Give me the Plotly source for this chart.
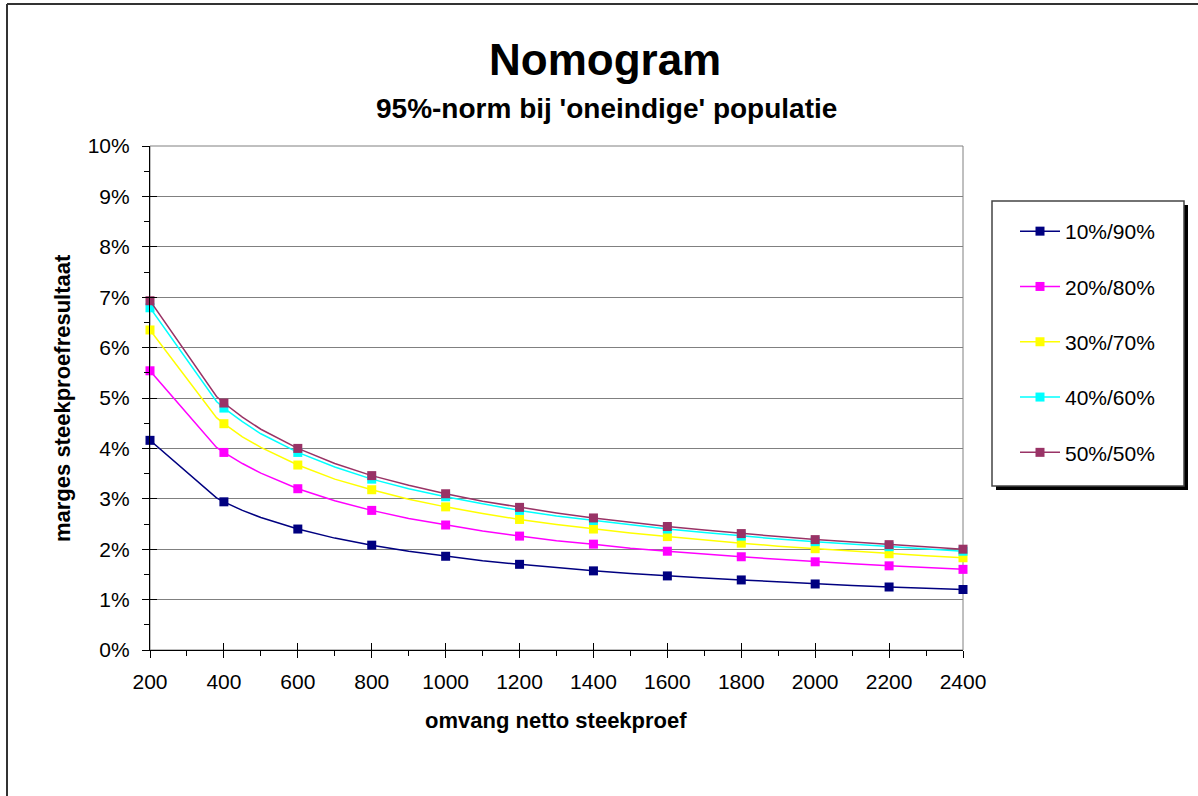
import plotly.graph_objects as go

# ==================== DATA ====================
# netto sample size (x) and the 95% margin per split, in percent
sample_size = [200, 380, 400, 450, 500, 600, 700, 800, 900, 1000, 1100, 1200,
               1300, 1400, 1500, 1600, 1700, 1800, 1900, 2000, 2100, 2200, 2300, 2400]

margin_10_90 = [4.16, 3.02, 2.94, 2.77, 2.63, 2.40, 2.22, 2.08, 1.96, 1.86, 1.77, 1.70,
                1.63, 1.57, 1.52, 1.47, 1.43, 1.39, 1.35, 1.31, 1.28, 1.25, 1.23, 1.20]
margin_20_80 = [5.54, 4.02, 3.92, 3.70, 3.51, 3.20, 2.96, 2.77, 2.61, 2.48, 2.36, 2.26,
                2.17, 2.10, 2.02, 1.96, 1.90, 1.85, 1.80, 1.75, 1.71, 1.67, 1.63, 1.60]
margin_30_70 = [6.35, 4.61, 4.49, 4.23, 4.02, 3.67, 3.39, 3.18, 2.99, 2.84, 2.71, 2.59,
                2.49, 2.40, 2.32, 2.25, 2.18, 2.12, 2.06, 2.01, 1.96, 1.91, 1.87, 1.83]
margin_40_60 = [6.79, 4.93, 4.80, 4.53, 4.29, 3.92, 3.63, 3.39, 3.20, 3.04, 2.90, 2.77,
                2.66, 2.57, 2.48, 2.40, 2.33, 2.26, 2.20, 2.15, 2.10, 2.05, 2.00, 1.96]
margin_50_50 = [6.93, 5.03, 4.90, 4.62, 4.38, 4.00, 3.70, 3.46, 3.27, 3.10, 2.95, 2.83,
                2.72, 2.62, 2.53, 2.45, 2.38, 2.31, 2.25, 2.19, 2.14, 2.09, 2.04, 2.00]

series_names = ['10%/90%', '20%/80%', '30%/70%', '40%/60%', '50%/50%']
series_values = [margin_10_90, margin_20_80, margin_30_70, margin_40_60, margin_50_50]
series_colors = ['#000080', '#FF00FF', '#FFFF00', '#00FFFF', '#993366']

x_tick_labels = [200, 400, 600, 800, 1000, 1200, 1400, 1600, 1800, 2000, 2200, 2400]

FONT = 'Arial, "Liberation Sans", sans-serif'

# ── pixel layout helpers (plot area 150..963 x 146..650) ──
W, H = 1198, 796
PL, PR, PT, PB = 150, 963, 146, 650


def px_x(px):
  return (px - PL) / (PR - PL)


def px_y(py):
  return (PB - py) / (PB - PT)


fig = go.Figure()

for name, vals, col in zip(series_names, series_values, series_colors):
  # markers only on the labelled sample sizes
  sizes = [9 if n in x_tick_labels else 0 for n in sample_size]
  fig.add_trace(go.Scatter(
    x=sample_size,
    y=[v / 100 for v in vals],
    name=name,
    legendgroup=name,
    showlegend=False,
    mode='lines+markers',
    line=dict(color=col, width=1.5),
    # array sizes make plotly treat it as a bubble trace (0.7 opacity) -> force solid
    marker=dict(symbol='square', size=sizes, color=col, opacity=1, line=dict(width=0)),
    cliponaxis=False,
  ))
  # legend entry (thin line + small square, like the original)
  fig.add_trace(go.Scatter(
    x=[None], y=[None],
    name=name,
    legendgroup=name,
    mode='lines+markers',
    line=dict(color=col, width=1.5),
    marker=dict(symbol='square', size=9, color=col, line=dict(width=0)),
  ))

axis_common = dict(
  showline=True, linecolor='black', linewidth=1.2,
  ticks='outside', ticklen=7, tickwidth=1.2, tickcolor='black',
  tickfont=dict(family=FONT, size=21, color='black'),
  zeroline=False,
)

fig.update_layout(
  width=W, height=H,
  margin=dict(l=PL, r=W - PR, t=PT, b=H - PB, pad=0),
  paper_bgcolor='white',
  plot_bgcolor='white',
  font=dict(family=FONT, color='black'),
  showlegend=True,
  xaxis=dict(
    range=[200, 2400],
    tickvals=x_tick_labels,
    showgrid=False,
    minor=dict(dtick=100, tick0=200, ticks='outside', ticklen=5, tickcolor='black', showgrid=False),
    ticklabelstandoff=6,
    **axis_common,
  ),
  yaxis=dict(
    range=[0, 0.10],
    dtick=0.01,
    tickformat='.0%',
    showgrid=True, gridcolor='#808080', gridwidth=1,
    minor=dict(dtick=0.005, ticks='outside', ticklen=5, tickcolor='black', showgrid=False),
    ticklabelstandoff=8,
    **axis_common,
  ),
  # overlay axes only for the inward half of the crossing major ticks
  xaxis2=dict(overlaying='x', range=[200, 2400], tickvals=x_tick_labels, ticks='inside',
              ticklen=7, tickcolor='black', tickwidth=1.2, showticklabels=False,
              showgrid=False, zeroline=False, showline=False, side='bottom'),
  yaxis2=dict(overlaying='y', range=[0, 0.10], dtick=0.01, ticks='inside',
              ticklen=7, tickcolor='black', tickwidth=1.2, showticklabels=False,
              showgrid=False, zeroline=False, showline=False, side='left'),
  legend=dict(
    x=px_x(1015), y=px_y(211), xanchor='left', yanchor='top',
    bgcolor='rgba(0,0,0,0)', borderwidth=0,
    font=dict(family=FONT, size=21, color='black'),
    tracegroupgap=25, itemwidth=40,
  ),
  shapes=[
    # plot area frame (grey, top and right)
    dict(type='rect', xref='paper', yref='paper', x0=0, x1=1, y0=0, y1=1,
         line=dict(color='#808080', width=1), layer='below'),
    # legend shadow and box
    dict(type='rect', xref='paper', yref='paper',
         x0=px_x(996), x1=px_x(1188), y0=px_y(205), y1=px_y(490),
         fillcolor='black', line=dict(width=0)),
    dict(type='rect', xref='paper', yref='paper',
         x0=px_x(992), x1=px_x(1184), y0=px_y(201), y1=px_y(486),
         fillcolor='white', line=dict(color='#444444', width=1.5)),
    # chart area border (left and top)
    dict(type='line', xref='paper', yref='paper',
         x0=px_x(7), x1=px_x(7), y0=px_y(4), y1=px_y(800),
         line=dict(color='#333333', width=2)),
    dict(type='line', xref='paper', yref='paper',
         x0=px_x(7), x1=px_x(1200), y0=px_y(4), y1=px_y(4),
         line=dict(color='#333333', width=2)),
  ],
  annotations=[
    dict(text='<b>Nomogram</b>', xref='paper', yref='paper', x=px_x(605), y=px_y(60),
         xanchor='center', yanchor='middle',
         showarrow=False, font=dict(family=FONT, size=44)),
    dict(text="<b>95%-norm bij 'oneindige' populatie</b>", xref='paper', yref='paper',
         x=px_x(606), y=px_y(108), xanchor='center', yanchor='middle',
         showarrow=False, font=dict(family=FONT, size=28)),
    dict(text='<b>omvang netto steekproef</b>', xref='paper', yref='paper',
         x=px_x(556), y=px_y(720), xanchor='center', yanchor='middle',
         showarrow=False, font=dict(family=FONT, size=22)),
    dict(text='<b>marges steekproefresultaat</b>', xref='paper', yref='paper',
         x=px_x(62), y=px_y(398), xanchor='center', yanchor='middle',
         showarrow=False, textangle=-90,
         font=dict(family=FONT, size=22)),
  ],
)

# attach an invisible trace to the overlay axes so their ticks are drawn
fig.add_trace(go.Scatter(x=[200], y=[0], xaxis='x2', yaxis='y2', mode='markers',
                         marker=dict(opacity=0), showlegend=False, hoverinfo='skip'))

fig.write_html('out.html', config={'displayModeBar': False},
               post_script="document.body.style.margin='0';")
